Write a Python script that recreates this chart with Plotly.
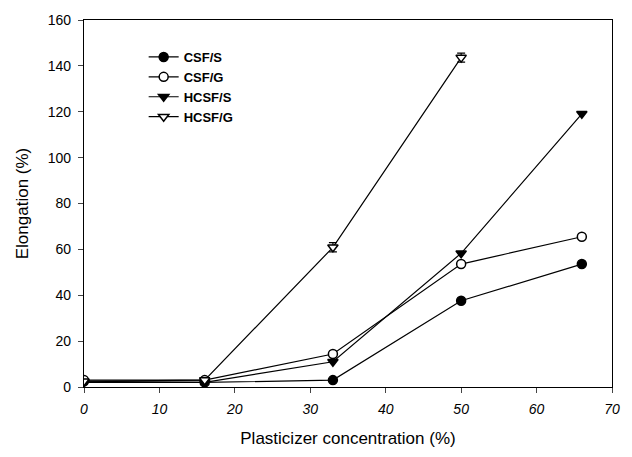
import plotly.graph_objects as go

conc = [0, 16, 33, 50, 66]
csf_s = [2.5, 2.0, 3.0, 37.6, 53.6]
csf_g = [3.0, 3.0, 14.4, 53.6, 65.5]
hcsf_s = [2.0, 2.0, 11.0, 58.3, 119.1]
hcsf_g_x = [0, 16, 33, 50]
hcsf_g_y = [2.5, 3.0, 60.9, 143.6]
hcsf_g_err = [0, 0, 2.0, 2.0]

x_ticks = [0, 10, 20, 30, 40, 50, 60, 70]
y_ticks = [0, 20, 40, 60, 80, 100, 120, 140, 160]

fig = go.Figure()
series = [
    ("CSF/S", conc, csf_s, "circle", "black", None),
    ("CSF/G", conc, csf_g, "circle", "white", None),
    ("HCSF/S", conc, hcsf_s, "triangle-down", "black", None),
    ("HCSF/G", hcsf_g_x, hcsf_g_y, "triangle-down", "white", hcsf_g_err),
]
for name, xs, ys, sym, fill, err in series:
    fig.add_trace(go.Scatter(
        x=xs, y=ys, name=name, mode="lines+markers",
        line=dict(color="black", width=1.2),
        marker=dict(symbol=sym, size=9, color=fill,
                    line=dict(color="black", width=1.5)),
        error_y=dict(type="data", array=err, color="black", thickness=1.2, width=4)
        if err is not None else None,
    ))

fig.update_layout(
    width=632, height=457,
    margin=dict(l=84, r=18, t=15, b=68),
    plot_bgcolor="white", paper_bgcolor="white",
    font=dict(family="Arial, Liberation Sans", color="black"),
    legend=dict(x=0.113, y=0.94, xanchor="left", yanchor="top",
                font=dict(size=13, family="Arial, Liberation Sans", weight="bold"),
                bgcolor="rgba(0,0,0,0)", itemwidth=30, tracegroupgap=0),
    xaxis=dict(range=[0, 70], tickvals=x_ticks, ticks="outside", ticklen=5,
               showline=True, linecolor="black", linewidth=1.2, mirror=True,
               showgrid=False, zeroline=False, ticklabelstandoff=4,
               tickfont=dict(size=14, style="italic"),
               title=dict(text="Plasticizer concentration (%)", font=dict(size=17), standoff=16)),
    yaxis=dict(range=[0, 160], tickvals=y_ticks, ticks="outside", ticklen=5,
               showline=True, linecolor="black", linewidth=1.2, mirror=True,
               showgrid=False, zeroline=False, ticklabelstandoff=4,
               tickfont=dict(size=14),
               title=dict(text="Elongation (%)", font=dict(size=17), standoff=14)),
)

fig.write_html("out.html")
